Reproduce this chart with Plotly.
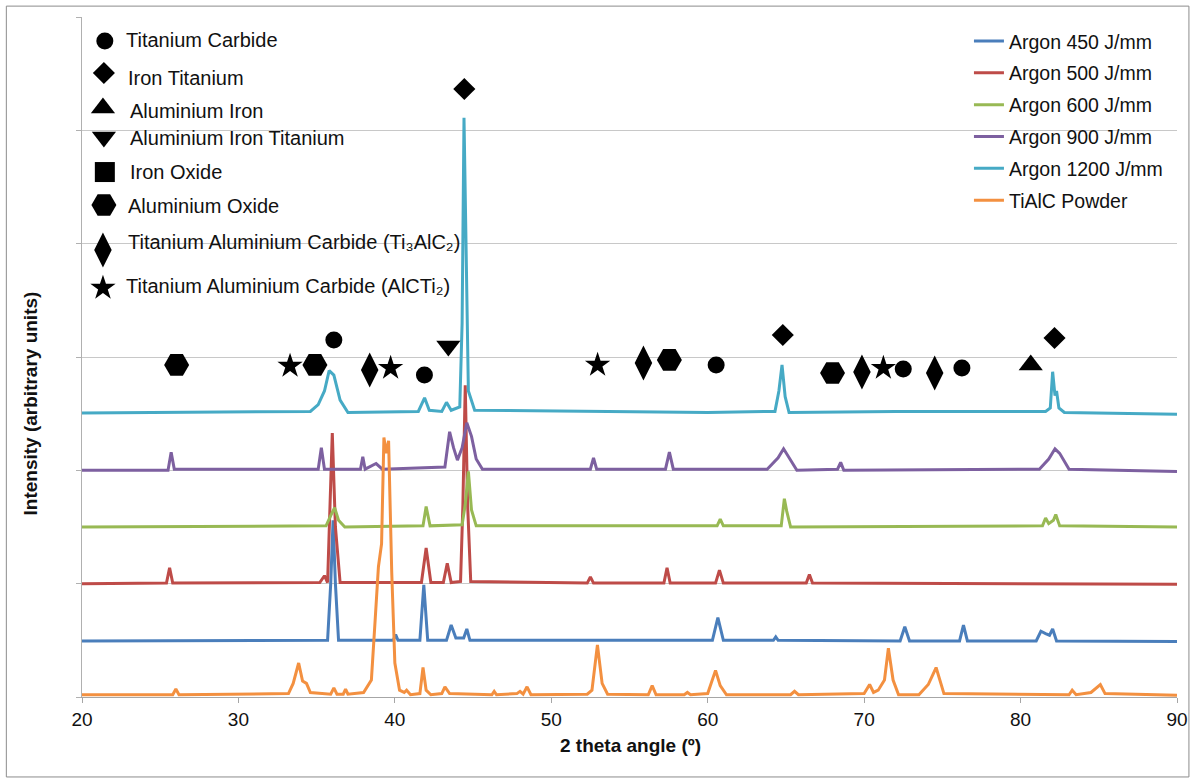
import plotly.graph_objects as go

FONT = "Liberation Sans, Arial, sans-serif"

# ---------------- data (2 theta, intensity in arbitrary units) ----------------
series_names = ["Argon 450 J/mm", "Argon 500 J/mm", "Argon 600 J/mm",
                "Argon 900 J/mm", "Argon 1200 J/mm", "TiAlC Powder"]

x450 = [20, 35.7, 35.9, 36.05, 36.2, 36.4, 39.9, 40.05, 40.2, 41.6, 41.85, 42.1,
        43.3, 43.6, 43.9, 44.4, 44.6, 44.8, 60.3, 60.65, 61.0, 64.2, 64.35, 64.5,
        72.3, 72.6, 72.9, 76.1, 76.35, 76.6, 81.0, 81.3, 81.6, 81.85, 82.05, 82.3, 90]
y450 = [495, 500, 1000, 1560, 1000, 500, 500, 550, 500, 500, 990, 500,
        500, 635, 520, 520, 600, 500, 500, 700, 500, 500, 530, 500,
        495, 620, 495, 495, 635, 495, 495, 580, 560, 545, 600, 495, 490]

x500 = [20, 25.4, 25.6, 25.8, 35.2, 35.5, 35.7, 35.8, 36.0, 36.2, 36.5,
        41.7, 42.0, 42.3, 43.1, 43.35, 43.6, 44.2, 44.35, 44.5, 44.65, 44.85,
        52.3, 52.5, 52.7, 57.2, 57.4, 57.6, 60.5, 60.75, 61.0, 66.3, 66.5, 66.7, 90]
y500 = [1000, 1005, 1140, 1005, 1010, 1070, 1010, 1500, 2330, 1500, 1010,
        1010, 1315, 1010, 1010, 1180, 1010, 1020, 1700, 2750, 1700, 1020,
        1005, 1060, 1005, 1005, 1140, 1005, 1005, 1120, 1005, 1005, 1080, 1005, 995]

x600 = [20, 35.6, 35.9, 36.15, 36.4, 36.8, 41.8, 42.0, 42.25, 44.3, 44.5, 44.7,
        44.9, 45.2, 60.6, 60.8, 61.0, 64.7, 64.9, 65.05, 65.3, 81.4, 81.6, 81.8,
        82.1, 82.25, 82.5, 90]
y600 = [1500, 1510, 1600, 1670, 1560, 1500, 1510, 1680, 1510, 1520, 1700, 1990,
        1650, 1510, 1510, 1570, 1510, 1510, 1750, 1640, 1500, 1510, 1580, 1530,
        1560, 1610, 1510, 1500]

x900 = [20, 25.5, 25.7, 25.9, 30, 35.1, 35.3, 35.5, 37.8, 37.95, 38.1, 38.8, 39.2,
        43.2, 43.5, 43.75, 44.0, 44.3, 44.6, 44.9, 45.2, 45.6, 52.5, 52.7, 52.9,
        57.3, 57.55, 57.8, 63.8, 64.3, 64.5, 64.85, 65.2, 65.7, 68.3, 68.5, 68.7,
        81.2, 81.8, 82.2, 82.5, 83.1, 90]
y900 = [2000, 2000, 2160, 2010, 2010, 2010, 2200, 2010, 2010, 2120, 2010, 2060, 2010,
        2030, 2340, 2200, 2090, 2200, 2420, 2300, 2100, 2010, 2010, 2110, 2010,
        2010, 2160, 2010, 2010, 2080, 2110, 2190, 2110, 2000, 2010, 2070, 2000,
        2010, 2100, 2190, 2150, 2010, 1990]

x1200 = [20, 26, 34.6, 35.1, 35.5, 35.8, 36.1, 36.5, 37.0,
         41.5, 41.9, 42.2, 43.0, 43.3, 43.6, 44.15, 44.3, 44.42, 44.55, 44.7, 45.1,
         53, 60, 64.3, 64.55, 64.75, 64.95, 65.2, 72,
         81.6, 81.9, 82.05, 82.2, 82.3, 82.45, 82.8, 90]
y1200 = [2505, 2510, 2520, 2580, 2700, 2880, 2840, 2620, 2510,
         2520, 2640, 2530, 2520, 2600, 2530, 2560, 3300, 5110, 3800, 2700, 2530,
         2520, 2510, 2520, 2700, 2930, 2650, 2510, 2520,
         2520, 2550, 2870, 2660, 2700, 2550, 2510, 2495]

xpow = [20, 25.8, 26.0, 26.2, 33.2, 33.5, 33.85, 34.1, 34.35, 34.6,
        35.9, 36.1, 36.3, 36.7, 36.85, 37.0,
        38.0, 38.5, 38.75, 38.95, 39.15, 39.3, 39.45, 39.6, 39.8, 40.0, 40.3, 40.6, 40.75, 41.0,
        41.6, 41.8, 42.0, 42.3, 43.0, 43.2, 43.5, 46.2, 46.35, 46.5,
        47.8, 48.0, 48.2, 48.45, 48.7, 52.3, 52.6, 52.95, 53.25, 53.6,
        56.2, 56.45, 56.7, 58.5, 58.7, 58.9, 60.0, 60.5, 60.8, 61.2,
        65.3, 65.55, 65.8, 70.0, 70.35, 70.6, 70.9, 71.3, 71.55, 71.85, 72.2,
        73.5, 74.1, 74.6, 75.1, 83.1, 83.3, 83.55, 84.5, 85.1, 85.4, 90]
ypow = [20, 20, 70, 20, 30, 120, 300, 140, 120, 40,
        25, 80, 25, 25, 70, 25,
        40, 150, 700, 1150, 1350, 2290, 2150, 2260, 1100, 300, 60, 40, 60, 20,
        30, 260, 60, 20, 30, 90, 30, 20, 50, 20,
        30, 50, 25, 90, 20, 25, 60, 460, 120, 25,
        20, 100, 20, 20, 40, 20, 30, 235, 100, 20,
        20, 50, 20, 30, 110, 40, 60, 150, 430, 150, 20,
        20, 110, 260, 30, 20, 60, 20, 40, 110, 30, 15]

series_x = [x450, x500, x600, x900, x1200, xpow]
series_y = [y450, y500, y600, y900, y1200, ypow]

# phase identification markers placed above peaks
tic_x = [36.10, 41.89, 60.54, 72.50, 76.25]          # Titanium Carbide
tic_y = [3150, 2841, 2930, 2894, 2903]
feti_x = [44.44, 64.80, 82.17]                       # Iron Titanium
feti_y = [5365, 3194, 3168]
alfe_x = [80.65]                                     # Aluminium Iron
alfe_y = [2930]
alfeti_x = [43.42]                                   # Aluminium Iron Titanium
alfeti_y = [3097]
alo_x = [26.05, 34.89, 57.55, 67.98]                 # Aluminium Oxide
alo_y = [2930, 2930, 2974, 2859]
ti3_x = [38.39, 55.89, 69.86, 74.51]                 # Ti3AlC2
ti3_y = [2885, 2947, 2868, 2859]
alc_x = [33.30, 39.73, 52.96, 71.23]                 # AlCTi2
alc_y = [2921, 2903, 2930, 2903]

key_labels = ["Titanium Carbide", "Iron Titanium", "Aluminium Iron",
              "Aluminium Iron Titanium", "Iron Oxide", "Aluminium Oxide",
              "Titanium Aluminium Carbide (Ti₃AlC₂)",
              "Titanium Aluminium Carbide (AlCTi₂)"]

# ---------------- styles ----------------
series_colors = ["#4A7EBB", "#BE4B48", "#98B954", "#7D60A0", "#46AAC5", "#F39040"]
key_symbols = ["circle", "diamond", "triangle-up", "triangle-down", "square",
               "hexagon2", "diamond-tall", "star"]
key_sizes = [17, 17, 21, 21, 20, 25, 25, 19]
key_sym_x = [21.46, 21.40, 21.34, 21.40, 21.46, 21.40, 21.34, 21.34]
key_sym_y = [5788, 5506, 5197, 4941, 4632, 4341, 3944, 3609]
key_txt_x = [22.70, 22.82, 22.95, 22.95, 22.95, 22.82, 22.82, 22.70]
key_txt_y = [5796, 5461, 5170, 4932, 4632, 4332, 4015, 3627]

fig = go.Figure()

for name, xs, ys, col in zip(series_names, series_x, series_y, series_colors):
    fig.add_trace(go.Scatter(x=xs, y=ys, mode="lines", name=name,
                             line=dict(color=col, width=3),
                             legendgroup=name))

marker_sets = [(tic_x, tic_y, "circle", 17), (feti_x, feti_y, "diamond", 17),
               (alfe_x, alfe_y, "triangle-up", 21), (alfeti_x, alfeti_y, "triangle-down", 21),
               (alo_x, alo_y, "hexagon2", 25), (ti3_x, ti3_y, "diamond-tall", 25),
               (alc_x, alc_y, "star", 19)]
for mx, my, sym, sz in marker_sets:
    fig.add_trace(go.Scatter(x=mx, y=my, mode="markers", showlegend=False,
                             marker=dict(symbol=sym, size=sz, color="black",
                                         line=dict(width=0)),
                             hoverinfo="skip"))

for sx, sy, sym, sz in zip(key_sym_x, key_sym_y, key_symbols, key_sizes):
    fig.add_trace(go.Scatter(x=[sx], y=[sy], mode="markers", showlegend=False,
                             marker=dict(symbol=sym, size=sz, color="black",
                                         line=dict(width=0)),
                             hoverinfo="skip"))

for lbl, tx, ty in zip(key_labels, key_txt_x, key_txt_y):
    fig.add_annotation(x=tx, y=ty, xref="x", yref="y", text=lbl, showarrow=False,
                       xanchor="left", yanchor="middle",
                       font=dict(family=FONT, size=20, color="#111"))

# axis titles
fig.add_annotation(x=0.501, y=-0.072, xref="paper", yref="paper",
                   text="<b>2 theta angle (º)</b>", showarrow=False,
                   xanchor="center", yanchor="middle",
                   font=dict(family=FONT, size=19, color="#111"))
fig.add_annotation(x=-0.0473, y=0.432, xref="paper", yref="paper",
                   text="<b>Intensity (arbitrary units)</b>", showarrow=False,
                   textangle=-90, xanchor="center", yanchor="middle",
                   font=dict(family=FONT, size=19, color="#111"))

# outer chart border
fig.add_shape(type="rect", xref="paper", yref="paper",
              x0=-0.0691, x1=1.0109, y0=-0.1176, y1=1.016,
              line=dict(color="#8c8c8c", width=1), fillcolor="rgba(0,0,0,0)")

fig.update_layout(
    width=1200, height=782,
    margin=dict(l=82, r=18, t=17, b=85),
    paper_bgcolor="white", plot_bgcolor="white",
    font=dict(family=FONT, size=19, color="#111"),
    showlegend=True,
    legend=dict(x=0.810, y=0.993, xanchor="left", yanchor="top",
                bgcolor="rgba(0,0,0,0)", borderwidth=0,
                font=dict(family=FONT, size=19.5, color="#111"),
                tracegroupgap=3.5),
    xaxis=dict(range=[20, 90], dtick=10, tick0=20, showgrid=False,
               showline=True, linecolor="#a6a6a6", linewidth=1,
               ticks="outside", ticklen=5, tickcolor="#a6a6a6",
               tickfont=dict(family=FONT, size=19, color="#111"),
               zeroline=False),
    yaxis=dict(range=[0, 6000], dtick=1000, tick0=0, showgrid=True,
               gridcolor="#c8c8c8", gridwidth=1,
               showline=True, linecolor="#b0b0b0", linewidth=1,
               ticks="outside", ticklen=5, tickcolor="#b0b0b0",
               showticklabels=False, zeroline=False),
)

fig.write_html("out.html")
